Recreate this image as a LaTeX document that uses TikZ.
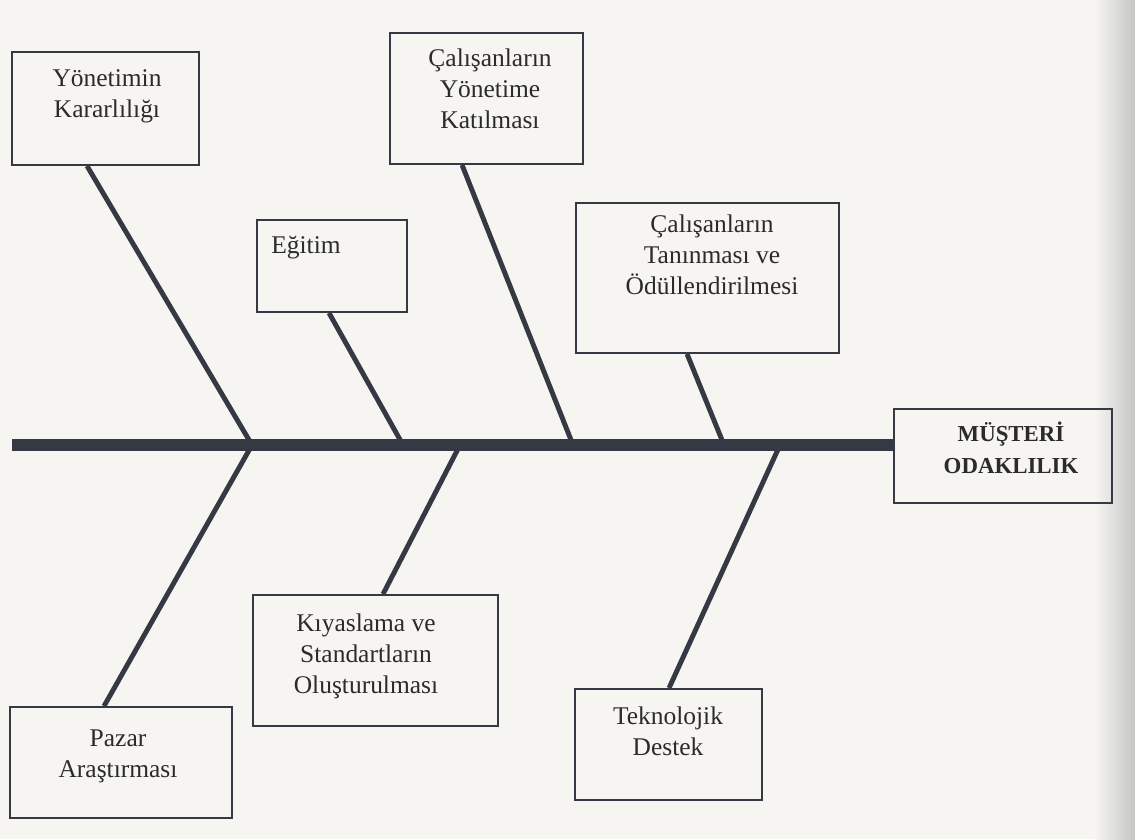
\documentclass[tikz,border=0pt]{standalone}
\usepackage{fontspec}
\setmainfont{Liberation Serif}
\definecolor{paper}{HTML}{F6F5F1}
\definecolor{ink}{HTML}{343943}
\definecolor{txt}{HTML}{2B2B2B}
\begin{document}
\begin{tikzpicture}[x=0.02cm,y=-0.02cm,
  box/.style={draw=ink,line width=1.1pt,fill=none,inner sep=0pt},
  lbl/.style={anchor=north,inner sep=0pt,align=center,text=txt,font=\fontsize{14.5}{17.9}\selectfont},
  blbl/.style={anchor=north,inner sep=0pt,align=center,text=txt,font=\fontsize{13}{18}\selectfont\bfseries},
  spine/.style={draw=ink,line width=6.8pt},
  bone/.style={draw=ink,line width=2.8pt}]
\fill[paper] (0,0) rectangle (1135,839);
\shade[left color=paper,right color=gray!45] (1095,0) rectangle (1135,839);
\useasboundingbox (0,0) rectangle (1135,839);
% boxes
\node[box,minimum width=3.74cm,minimum height=2.26cm] (b1) at (105.5,108.5) {};
\node[box,minimum width=3.86cm,minimum height=2.62cm] (b2) at (486.5,98.5) {};
\node[box,minimum width=3.0cm,minimum height=1.84cm] (b3) at (332,266) {};
\node[box,minimum width=5.26cm,minimum height=3.0cm] (b4) at (707.5,278) {};
\node[box,minimum width=4.36cm,minimum height=1.88cm] (b5) at (1003,456) {};
\node[box,minimum width=4.44cm,minimum height=2.22cm] (b6) at (121,762.5) {};
\node[box,minimum width=4.9cm,minimum height=2.62cm] (b7) at (375.5,660.5) {};
\node[box,minimum width=3.74cm,minimum height=2.22cm] (b8) at (668.5,744.5) {};
% labels
\node[lbl] (t1) at (107,69) {Yönetimin\\Kararlılığı};
\node[lbl] (t2) at (490,48) {Çalışanların\\Yönetime\\Katılması};
\node[lbl] (t3) at (306,236) {Eğitim};
\node[lbl] (t4) at (712,214) {Çalışanların\\Tanınması ve\\Ödüllendirilmesi};
\node[blbl] (t5) at (1011,422) {MÜŞTERİ\\ODAKLILIK};
\node[lbl] (t6) at (118,729) {Pazar\\Araştırması};
\node[lbl] (t7) at (366,613) {Kıyaslama ve\\Standartların\\Oluşturulması};
\node[lbl] (t8) at (668,706) {Teknolojik\\Destek};
% spine
\coordinate (tail) at (12,445);
\coordinate (j1) at (252,445);
\coordinate (j2) at (403,445);
\coordinate (j3) at (573,445);
\coordinate (j4) at (724,445);
\coordinate (k1) at (460,445);
\coordinate (k2) at (780,445);
\draw[spine] (tail) -- (b5.west |- tail);
% bones
\draw[bone] ([xshift=1.52cm]b1.south west) -- (j1);
\draw[bone] (j1) -- ([xshift=1.9cm]b6.north west);
\draw[bone] ([xshift=1.46cm]b3.south west) -- (j2);
\draw[bone] ([xshift=1.46cm]b2.south west) -- (j3);
\draw[bone] ([xshift=2.24cm]b4.south west) -- (j4);
\draw[bone] (k1) -- ([xshift=2.62cm]b7.north west);
\draw[bone] (k2) -- ([xshift=1.9cm]b8.north west);
\end{tikzpicture}
\end{document}
